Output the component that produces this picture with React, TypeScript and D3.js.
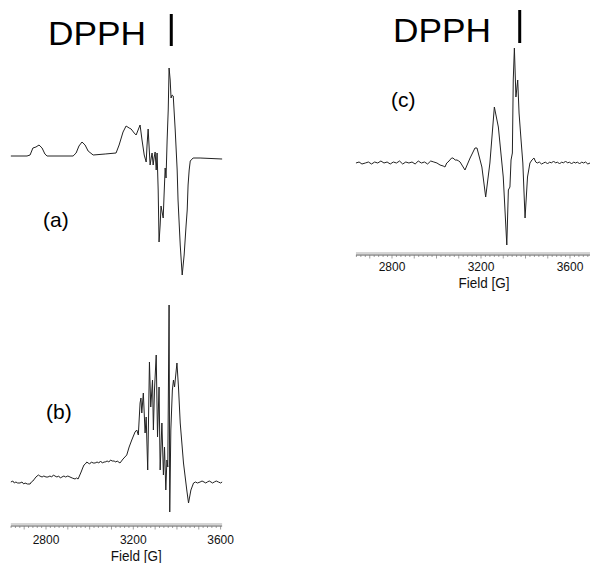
import React from "react";
import * as d3 from "d3";

// EPR spectra, field in gauss, intensity in arbitrary units (baseline = 0)

const fieldA = [2639, 2713, 2727, 2740, 2754, 2768, 2782, 2795, 2805, 2924, 2938, 2951, 2965, 2979, 2993, 3016, 3071, 3121, 3135, 3153, 3167, 3181, 3190, 3204, 3213, 3222, 3231, 3240, 3250, 3259, 3263, 3268, 3272, 3277, 3282, 3286, 3291, 3295, 3300, 3305, 3309, 3314, 3318, 3323, 3327, 3332, 3337, 3341, 3346, 3350, 3355, 3360, 3364, 3369, 3373, 3378, 3383, 3392, 3401, 3405, 3415, 3424, 3433, 3442, 3447, 3451, 3456, 3461, 3474, 3506, 3607];
const intA = [0, 0, 1, 8, 9, 11, 8, 2, 0, 0, 3, 10, 14, 11, 5, 1, 2, 3, 11, 24, 30, 28, 27, 23, 21, 26, 31, 16, 1, -6, 11, 27, 11, -9, -2, 3, -9, -2, 4, -14, 3, -34, -86, -69, -50, -56, -62, -39, -12, -22, 16, 46, 88, 76, 58, 61, 60, 26, -14, -44, -89, -119, -99, -69, -54, -29, -14, -5, -2, -2, -3];

const fieldB = [2639, 2648, 2655, 2662, 2670, 2681, 2690, 2698, 2704, 2715, 2727, 2733, 2740, 2754, 2765, 2772, 2782, 2790, 2800, 2809, 2818, 2826, 2834, 2841, 2850, 2858, 2866, 2873, 2882, 2890, 2900, 2910, 2920, 2933, 2940, 2947, 2955, 2961, 2968, 2974, 2980, 2987, 2993, 3000, 3008, 3016, 3025, 3034, 3042, 3050, 3058, 3066, 3071, 3080, 3088, 3096, 3103, 3112, 3120, 3126, 3139, 3153, 3170, 3181, 3193, 3208, 3216, 3223, 3231, 3235, 3239, 3246, 3254, 3259, 3266, 3274, 3280, 3288, 3292, 3297, 3305, 3311, 3318, 3323, 3331, 3338, 3343, 3349, 3354, 3358, 3364, 3367, 3372, 3379, 3384, 3389, 3400, 3407, 3415, 3430, 3445, 3453, 3464, 3476, 3485, 3494, 3506, 3515, 3524, 3532, 3539, 3548, 3556, 3563, 3571, 3580, 3590, 3600, 3607];
const intB = [0, 1, -1, 0, -1, -1, 0, -2, -1, -2, -2, 0, 1, 5, 7, 6, 5, 6, 5, 5, 6, 5, 7, 6, 5, 6, 4, 5, 6, 5, 6, 5, 4, 3, 4, 3, 7, 10, 14, 17, 18, 20, 19, 18, 20, 19, 19, 20, 19, 21, 19, 20, 20, 21, 20, 22, 21, 21, 20, 21, 19, 23, 27, 35, 42, 50, 52, 47, 79, 84, 69, 89, 49, 65, 12, 120, 75, 102, 52, 92, 127, 45, 95, 12, 59, 7, 35, -8, 22, 15, 177, -30, 52, 92, 102, 95, 119, 95, 59, 19, -8, -21, -8, -1, 0, -1, 0, 1, 0, -1, 0, 1, 0, -1, 0, 1, 0, -1, 0];

const fieldC = [2638, 2652, 2665, 2680, 2694, 2708, 2722, 2736, 2750, 2764, 2778, 2792, 2806, 2820, 2834, 2848, 2862, 2876, 2890, 2904, 2918, 2932, 2946, 2960, 2974, 2988, 3002, 3016, 3030, 3038, 3046, 3052, 3060, 3068, 3074, 3084, 3092, 3100, 3106, 3128, 3151, 3173, 3182, 3204, 3221, 3240, 3260, 3278, 3300, 3316, 3323, 3330, 3335, 3341, 3345, 3350, 3357, 3365, 3371, 3380, 3388, 3398, 3409, 3420, 3429, 3438, 3446, 3453, 3462, 3472, 3481, 3490, 3499, 3508, 3517, 3526, 3535, 3544, 3553, 3562, 3571, 3580, 3589, 3598, 3607, 3616, 3625, 3634, 3643, 3652, 3661, 3670, 3680, 3690];
const intC = [0, 1, -1, 0, 1, -1, 1, 0, 2, 0, 1, -1, 1, 0, 2, -1, 1, 0, 1, -1, 2, 0, 1, -1, 2, 1, 0, -2, -3, -4, 0, 1, 3, 5, 5, 3, 3, 2, 1, -7, 5, 15, 15, -4, -34, 0, 56, 36, -14, -82, -27, -24, 3, 10, 83, 115, 66, 83, 50, 23, 0, -55, -14, 0, 3, 5, 1, 0, 1, -1, 0, 1, -1, 1, 0, 2, 0, 1, -1, 1, 0, 2, 0, 1, -1, 1, 0, 1, -1, 1, 0, 1, -1, 0];

const tickLabels = [2800, 3200, 3600];
const dpphField = 3374;

const W = 590;
const H = 563;
const font = "'Liberation Sans', Arial, sans-serif";

// horizontal scales (left column shares one axis)
const xLeft = d3.scaleLinear().domain([2800, 3600]).range([46, 220.6]);
const xRight = d3.scaleLinear().domain([2800, 3600]).range([392, 570]);

const yA = d3.scaleLinear().domain([0, 100]).range([156, 56]);
const yB = d3.scaleLinear().domain([0, 100]).range([482, 382]);
const yC = d3.scaleLinear().domain([0, 100]).range([163, 63]);

function Trace({ fields, values, x, y }) {
  const line = d3.line<number>()
    .x((d, i) => x(fields[i]))
    .y(d => y(d));
  return <path d={line(values)} fill="none" stroke="#222" strokeWidth={1} strokeLinejoin="round" />;
}

function FieldAxis({ x, y0, from, to, tickDy, titleDy }) {
  const minor = d3.range(2640, to + 1, 20);
  return (
    <g>
      <line x1={x(from)} x2={x(to)} y1={y0 - 1} y2={y0 - 1} stroke="#aaa" strokeWidth={1} />
      <line x1={x(from)} x2={x(to)} y1={y0 + 1} y2={y0 + 1} stroke="#555" strokeWidth={1} />
      {minor.map(v => (
        <line key={v} x1={x(v)} x2={x(v)} y1={y0 + 1}
          y2={y0 + (v % 100 === 0 ? 4.5 : 3)} stroke="#777" strokeWidth={0.7} />
      ))}
      {tickLabels.map(v => (
        <text key={v} x={x(v)} y={y0 + tickDy} textAnchor="middle" fontSize={12} fontFamily={font} fill="#111">{v}</text>
      ))}
      <text x={x(3200) + 3} y={y0 + titleDy} textAnchor="middle" fontSize={14} fontFamily={font}
        textLength={51} lengthAdjust="spacingAndGlyphs" fill="#111">Field [G]</text>
    </g>
  );
}

function Dpph({ x, left, baseline, barTop, barBottom }) {
  return (
    <g>
      <text x={left} y={baseline} fontSize={33} fontFamily={font} textLength={98} lengthAdjust="spacingAndGlyphs" fill="#000">DPPH</text>
      <line x1={x(dpphField)} x2={x(dpphField)} y1={barTop} y2={barBottom} stroke="#000" strokeWidth={3} />
    </g>
  );
}

export default function App() {
  return (
    <div style={{ position: "absolute", left: 0, top: 0 }}>
      <svg width={W} height={H} style={{ display: "block", background: "#fff" }}>
        <Dpph x={xLeft} left={48} baseline={45} barTop={14} barBottom={46} />
        <Dpph x={xRight} left={393} baseline={42} barTop={10} barBottom={43} />

        <Trace fields={fieldA} values={intA} x={xLeft} y={yA} />
        <Trace fields={fieldB} values={intB} x={xLeft} y={yB} />
        <Trace fields={fieldC} values={intC} x={xRight} y={yC} />

        <text x={43} y={227} fontSize={21} fontFamily={font}>(a)</text>
        <text x={46} y={419} fontSize={21} fontFamily={font}>(b)</text>
        <text x={391} y={107} fontSize={21} fontFamily={font}>(c)</text>

        <FieldAxis x={xLeft} y0={525} from={2639} to={3607} tickDy={19} titleDy={36} />
        <FieldAxis x={xRight} y0={254} from={2638} to={3690} tickDy={17} titleDy={34} />
      </svg>
    </div>
  );
}
